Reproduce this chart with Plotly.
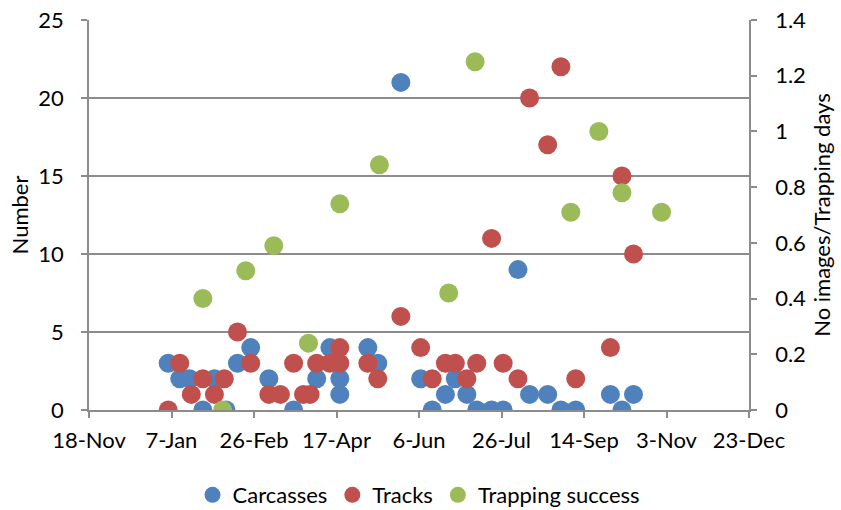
import plotly.graph_objects as go

# ---- data ----
carcass_dates = ["2013-01-05", "2013-01-12", "2013-01-18", "2013-01-26", "2013-02-02", "2013-02-09",
                 "2013-02-16", "2013-02-24", "2013-03-07", "2013-03-22", "2013-04-05", "2013-04-13",
                 "2013-04-19", "2013-04-19", "2013-05-06", "2013-05-12", "2013-05-26", "2013-06-07",
                 "2013-06-14", "2013-06-22", "2013-06-28", "2013-07-05", "2013-07-11", "2013-07-20",
                 "2013-07-27", "2013-08-05", "2013-08-12", "2013-08-23", "2013-08-31", "2013-09-09",
                 "2013-09-30", "2013-10-07", "2013-10-14"]
carcass_values = [3, 2, 2, 0, 2, 0,
                  3, 4, 2, 0, 2, 4,
                  2, 1, 4, 3, 21, 2,
                  0, 1, 2, 1, 0, 0,
                  0, 9, 1, 1, 0, 0,
                  1, 0, 1]

track_dates = ["2013-01-05", "2013-01-12", "2013-01-19", "2013-01-26", "2013-02-02", "2013-02-08",
               "2013-02-16", "2013-02-24", "2013-03-07", "2013-03-14", "2013-03-22", "2013-03-28",
               "2013-04-01", "2013-04-05", "2013-04-13", "2013-04-19", "2013-04-19", "2013-05-06",
               "2013-05-12", "2013-05-26", "2013-06-07", "2013-06-14", "2013-06-22", "2013-06-28",
               "2013-07-05", "2013-07-11", "2013-07-20", "2013-07-27", "2013-08-05", "2013-08-12",
               "2013-08-23", "2013-08-31", "2013-09-09", "2013-09-30", "2013-10-07", "2013-10-14"]
track_values = [0, 3, 1, 2, 1, 2,
                5, 3, 1, 1, 3, 1,
                1, 3, 3, 4, 3, 3,
                2, 6, 4, 2, 3, 3,
                2, 3, 11, 3, 2, 20,
                17, 22, 2, 4, 15, 10]

trap_dates = ["2013-01-26", "2013-02-07", "2013-02-21", "2013-03-10", "2013-03-31", "2013-04-19",
              "2013-05-13", "2013-06-24", "2013-07-10", "2013-09-06", "2013-09-23", "2013-10-07",
              "2013-10-31"]
trap_values = [0.40, 0.0, 0.50, 0.59, 0.24, 0.74,
               0.88, 0.42, 1.25, 0.71, 1.0, 0.78,
               0.71]

x_tick_dates = ["2012-11-18", "2013-01-07", "2013-02-26", "2013-04-17", "2013-06-06",
                "2013-07-26", "2013-09-14", "2013-11-03", "2013-12-23"]
x_tick_labels = ["18-Nov", "7-Jan", "26-Feb", "17-Apr", "6-Jun", "26-Jul", "14-Sep", "3-Nov", "23-Dec"]

left_ticks = [0, 5, 10, 15, 20, 25]
right_ticks = [0, 0.2, 0.4, 0.6, 0.8, 1, 1.2, 1.4]
right_labels = ["0", "0.2", "0.4", "0.6", "0.8", "1", "1.2", "1.4"]

# ---- style ----
BLUE = "#4F81BD"
RED = "#C0504D"
GREEN = "#9BBB59"
GRID = "#8C8C8C"
FONT = "Lato"
MS = 19
TICK_SIZE = 22
TITLE_SIZE = 22

fig = go.Figure()
fig.add_trace(go.Scatter(x=carcass_dates, y=carcass_values, mode="markers", name="Carcasses",
                         marker=dict(color=BLUE, size=MS, line=dict(width=0))))
fig.add_trace(go.Scatter(x=track_dates, y=track_values, mode="markers", name="Tracks",
                         marker=dict(color=RED, size=MS, line=dict(width=0))))
fig.add_trace(go.Scatter(x=trap_dates, y=trap_values, mode="markers", name="Trapping success",
                         yaxis="y2",
                         marker=dict(color=GREEN, size=MS, line=dict(width=0))))

fig.update_layout(
    width=841, height=510,
    margin=dict(l=89, r=92, t=20, b=100, autoexpand=False),
    paper_bgcolor="white", plot_bgcolor="white",
    font=dict(family=FONT, size=TICK_SIZE, color="black"),
    showlegend=True,
    legend=dict(orientation="h", x=0.5, xanchor="center", y=-0.218, yanchor="middle",
                font=dict(size=TITLE_SIZE), itemwidth=30, tracegroupgap=0),
    xaxis=dict(type="date", range=["2012-11-18", "2013-12-23"],
               tickmode="array", tickvals=x_tick_dates, ticktext=x_tick_labels,
               showgrid=False, zeroline=False, automargin=False,
               showline=True, linecolor=GRID, linewidth=1.5,
               ticks="outside", ticklen=6, tickcolor=GRID, tickwidth=1.5,
               ticklabelstandoff=4, ticklabeloverflow="allow",
               tickfont=dict(size=TICK_SIZE)),
    yaxis=dict(range=[0, 25], tickmode="array", tickvals=left_ticks,
               showgrid=True, gridcolor=GRID, gridwidth=1.5, zeroline=False, automargin=False,
               showline=True, linecolor=GRID, linewidth=1.5,
               ticks="outside", ticklen=6, tickcolor=GRID, tickwidth=1.5,
               ticklabelstandoff=13, ticklabeloverflow="allow",
               tickfont=dict(size=TICK_SIZE),
               title=dict(text="Number", font=dict(size=TITLE_SIZE), standoff=4)),
    yaxis2=dict(range=[0, 1.4], overlaying="y", side="right", automargin=False,
                tickmode="array", tickvals=right_ticks, ticktext=right_labels,
                showgrid=False, zeroline=False,
                showline=True, linecolor=GRID, linewidth=1.5,
                ticks="outside", ticklen=6, tickcolor=GRID, tickwidth=1.5,
                ticklabelstandoff=14, ticklabeloverflow="allow",
                tickfont=dict(size=TICK_SIZE),
                title=dict(text="No images/Trapping days", font=dict(size=TITLE_SIZE), standoff=9)),
)

fig.write_html("out.html", config={"displayModeBar": False},
               post_script="document.body.style.margin='0';")
